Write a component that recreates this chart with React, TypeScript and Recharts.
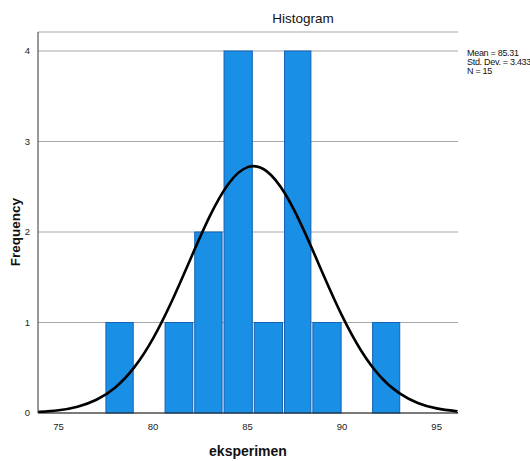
import { ComposedChart, Line, XAxis, YAxis, CartesianGrid, ReferenceArea } from 'recharts';

// ── Data ──────────────────────────────────────────────────────────────────────

// histogram bins (edges), counts per bin
const binStart = [77.45, 79.0, 80.58, 82.15, 83.7, 85.3, 86.9, 88.4, 90.0, 91.56];
const binEnd = [79.0, 80.58, 82.15, 83.7, 85.3, 86.9, 88.4, 90.0, 91.56, 93.1];
const binCount = [1, 0, 1, 2, 4, 1, 4, 1, 0, 1];

// normal curve
const curveX = [73.91, 74, 75, 76, 77, 78, 79, 80, 81, 82, 83, 84, 85, 86, 87, 88, 89, 90, 91, 92, 93, 94, 95, 96, 96.13];
const curveY = [0.011, 0.012, 0.03, 0.069, 0.146, 0.283, 0.504, 0.825, 1.24, 1.713, 2.175, 2.536, 2.717, 2.673, 2.417, 2.007, 1.531, 1.073, 0.691, 0.408, 0.222, 0.111, 0.051, 0.021, 0.019];

const xTicks = [75, 80, 85, 90, 95];
const yTicks = [0, 1, 2, 3, 4];
const stats = ['Mean = 85.31', 'Std. Dev. = 3.433', 'N = 15'];

const curveData = curveX.map((x, i) => ({ x, y: curveY[i] }));

const FONT = "'Liberation Sans Narrow', 'Liberation Sans', Arial, sans-serif";
const tickStyle = { fill: '#222', fontSize: 9.5, fontFamily: FONT };

function BinRect(props: any) {
  const { x, y, width, height } = props;
  if (!height || height <= 0) return null;
  return (
    <rect
      x={x + 1}
      y={y}
      width={width - 2}
      height={height}
      fill="#1a8fe6"
      stroke="#1462b4"
      strokeWidth={1}
    />
  );
}

export default function App() {
  return (
    <div style={{ position: 'absolute', left: 0, top: 0, width: 530, height: 461, background: '#fff', fontFamily: FONT }}>
      <ComposedChart
        width={530}
        height={461}
        data={curveData}
        margin={{ top: 32, right: 72, bottom: 18, left: 8 }}
      >
        <CartesianGrid horizontal vertical={false} stroke="#a8a8a8" strokeWidth={1.2} />
        <XAxis
          dataKey="x"
          type="number"
          domain={[73.91, 96.13]}
          ticks={xTicks}
          allowDataOverflow
          tickLine={false}
          axisLine={{ stroke: '#222', strokeWidth: 1.2 }}
          tick={tickStyle}
          tickMargin={4}
          height={30}
        />
        <YAxis
          type="number"
          domain={[0, 4.21]}
          ticks={yTicks}
          allowDataOverflow
          tickLine={false}
          axisLine={{ stroke: '#555', strokeWidth: 1.2 }}
          tick={tickStyle}
          tickMargin={2}
          width={30}
        />
        {binCount.map((c, i) => (
          <ReferenceArea
            key={i}
            x1={binStart[i]}
            x2={binEnd[i]}
            y1={0}
            y2={c}
            shape={BinRect}
            ifOverflow="visible"
          />
        ))}
        <Line
          dataKey="y"
          type="natural"
          stroke="#000"
          strokeWidth={2.6}
          dot={false}
          activeDot={false}
          isAnimationActive={false}
          zIndex={1000}
        />
      </ComposedChart>

      <div style={{ position: 'absolute', left: 0, width: 606, top: 11, textAlign: 'center', fontSize: 13.5, color: '#111' }}>
        Histogram
      </div>
      <div
        style={{
          position: 'absolute',
          left: 467,
          top: 49,
          fontSize: 9,
          lineHeight: '9px',
          letterSpacing: -0.3,
          color: '#111',
          whiteSpace: 'nowrap',
        }}
      >
        {stats.map((s) => (
          <div key={s}>{s}</div>
        ))}
      </div>
      <div style={{ position: 'absolute', left: 0, width: 496, top: 443, textAlign: 'center', fontSize: 14, fontWeight: 'bold', color: '#111' }}>
        eksperimen
      </div>
      <div
        style={{
          position: 'absolute',
          left: 15,
          top: 232,
          transform: 'translate(-50%, -50%) rotate(-90deg)',
          fontSize: 13.5,
          fontWeight: 'bold',
          color: '#111',
          whiteSpace: 'nowrap',
        }}
      >
        Frequency
      </div>
    </div>
  );
}
